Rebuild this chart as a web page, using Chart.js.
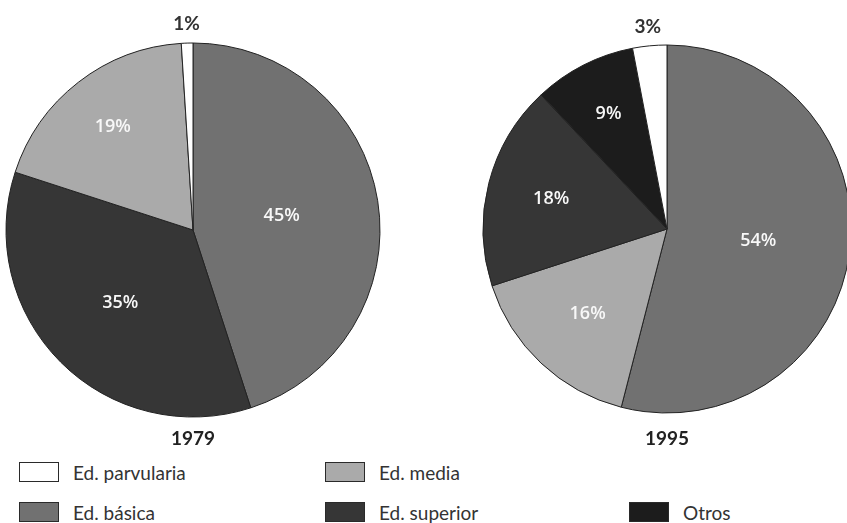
<!DOCTYPE html>
<html>
<head>
<meta charset="utf-8">
<script src="https://cdn.jsdelivr.net/npm/chart.js@4"></script>
<style>
  html, body { margin: 0; padding: 0; background: #fff; }
  body { width: 847px; height: 523px; position: relative; overflow: hidden; font-family: Lato, "Open Sans", sans-serif; }
  .pie { position: absolute; top: 0; }
  #legend { position: absolute; left: 19px; top: 462px; display: grid; grid-template-columns: 306px 304px 200px; grid-template-rows: 20px 20px; row-gap: 20px; }
  .item { display: flex; align-items: center; font-size: 19px; color: #333; }
  .box { width: 38px; height: 18px; border: 1px solid #2a2a2a; margin-right: 14px; box-sizing: content-box; }
</style>
</head>
<body>
<canvas id="pie1979" class="pie" style="left:0px" width="386" height="450"></canvas>
<canvas id="pie1995" class="pie" style="left:460px" width="414" height="450"></canvas>
<div id="legend"></div>
<script>
// categorias y colores
const categories = ['Ed. parvularia', 'Ed. básica', 'Ed. media', 'Ed. superior', 'Otros'];
const colors = {
    'Ed. parvularia': '#ffffff',
    'Ed. básica': '#717171',
    'Ed. media': '#aaaaaa',
    'Ed. superior': '#363636',
    'Otros': '#1c1c1c'
};

// 1979 (orden horario desde arriba)
const labels1979 = ['Ed. básica', 'Ed. superior', 'Ed. media', 'Ed. parvularia'];
const values1979 = [45, 35, 19, 1];

// 1995
const labels1995 = ['Ed. básica', 'Ed. media', 'Ed. superior', 'Otros', 'Ed. parvularia'];
const values1995 = [54, 16, 18, 9, 3];

// distancia relativa de cada etiqueta al centro
const labelDist1979 = [0.48, 0.55, 0.70, 0];
const labelDist1995 = [0.50, 0.63, 0.65, 0.70, 0];

// etiquetas de porcentaje y año
const pieLabels = {
    id: 'pieLabels',
    afterDatasetsDraw(chart, args, opts) {
        const ctx = chart.ctx;
        const meta = chart.getDatasetMeta(0);
        const data = chart.data.datasets[0].data;
        ctx.save();
        ctx.textAlign = 'center';
        ctx.textBaseline = 'middle';
        meta.data.forEach((arc, i) => {
            const mid = (arc.startAngle + arc.endAngle) / 2;
            const txt = data[i] + '%';
            if (data[i] < 5) {
                // porcentaje pequeño fuera del círculo
                const r = arc.outerRadius + 19;
                ctx.fillStyle = '#333';
                ctx.font = 'bold 19px Lato, "Open Sans", sans-serif';
                ctx.fillText(txt, arc.x + Math.cos(mid) * r, arc.y + Math.sin(mid) * r);
            } else {
                const r = arc.outerRadius * opts.dist[i];
                ctx.fillStyle = '#f8f8f8';
                ctx.font = '600 18px "Open Sans", Lato, sans-serif';
                ctx.fillText(txt, arc.x + Math.cos(mid) * r, arc.y + Math.sin(mid) * r);
            }
        });
        // año
        ctx.fillStyle = '#222';
        ctx.font = 'bold 19px Lato, "Open Sans", sans-serif';
        ctx.fillText(opts.year, meta.data[0].x, chart.chartArea.bottom + 9);
        ctx.restore();
    }
};

function makePie(id, labels, values, radius, padTop, year, dist) {
    return new Chart(document.getElementById(id), {
        type: 'pie',
        data: {
            labels: labels,
            datasets: [{
                data: values,
                backgroundColor: labels.map(l => colors[l]),
                borderColor: '#222',
                borderWidth: 1
            }]
        },
        options: {
            responsive: false,
            animation: false,
            radius: radius,
            layout: { padding: { top: padTop, bottom: 20, left: 0, right: 0 } },
            plugins: {
                legend: { display: false },
                tooltip: { enabled: false },
                pieLabels: { year: year, dist: dist }
            }
        },
        plugins: [pieLabels]
    });
}

makePie('pie1979', labels1979, values1979, 187, 30, '1979', labelDist1979);
makePie('pie1995', labels1995, values1995, 184, 28, '1995', labelDist1995);

// leyenda
const legendPlace = {
    'Ed. parvularia': [1, 1],
    'Ed. media': [1, 2],
    'Ed. básica': [2, 1],
    'Ed. superior': [2, 2],
    'Otros': [2, 3]
};
const legend = document.getElementById('legend');
categories.forEach(c => {
    const el = document.createElement('div');
    el.className = 'item';
    el.style.gridRow = legendPlace[c][0];
    el.style.gridColumn = legendPlace[c][1];
    el.innerHTML = '<span class="box" style="background:' + colors[c] + '"></span><span>' + c + '</span>';
    legend.appendChild(el);
});
</script>
</body>
</html>
